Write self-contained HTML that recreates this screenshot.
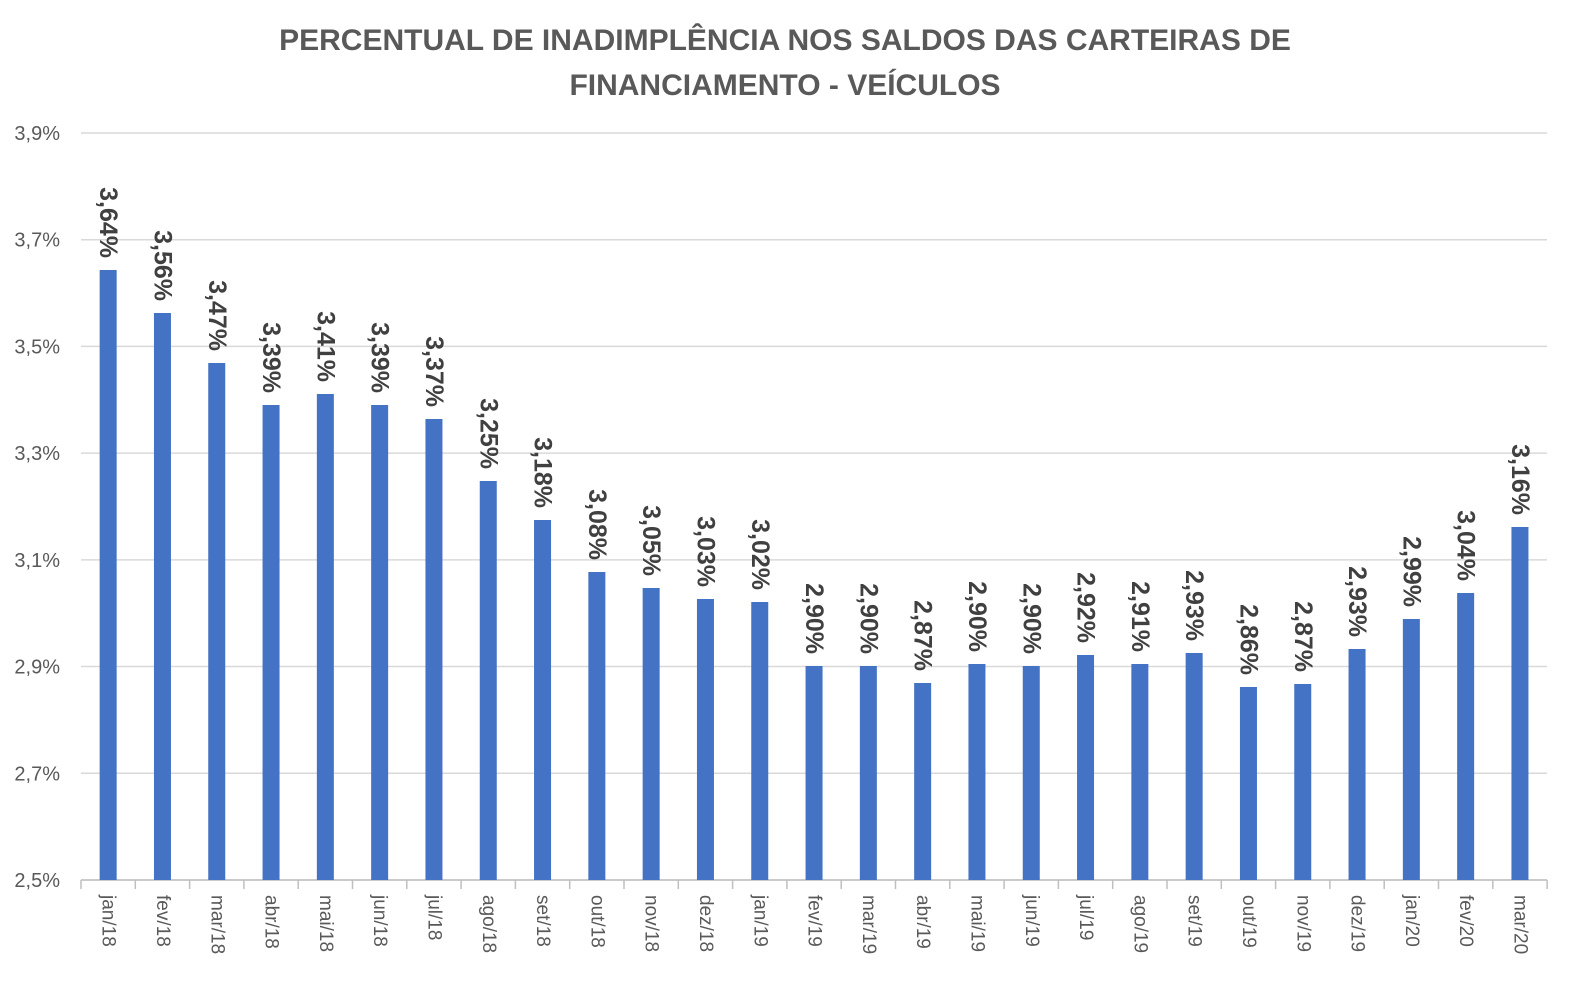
<!DOCTYPE html>
<html><head><meta charset="utf-8"><style>
body{margin:0;background:#fff}
svg{display:block;font-family:"Liberation Sans",Calibri,sans-serif}
</style></head><body>
<svg width="1581" height="985" viewBox="0 0 1581 985" xmlns="http://www.w3.org/2000/svg">
<text x="785" y="50" text-anchor="middle" font-size="30" font-weight="bold" fill="#595959">PERCENTUAL DE INADIMPLÊNCIA NOS SALDOS DAS CARTEIRAS DE</text>
<text x="785" y="95" text-anchor="middle" font-size="30" font-weight="bold" fill="#595959">FINANCIAMENTO - VEÍCULOS</text>
<g id="grid" stroke="#d9d9d9" stroke-width="1.5"></g>
<g id="yl" font-size="20" fill="#595959" text-anchor="end"></g>
<g id="bars" fill="#4472c4"></g>
<g id="lab" font-size="25" font-weight="bold" fill="#404040"></g>
<g id="xl" font-size="19" fill="#595959"></g>
</svg>
<script>
var ns="http://www.w3.org/2000/svg";
function el(p,t,a,txt){var e=document.createElementNS(ns,t);for(var k in a)e.setAttribute(k,a[k]);if(txt)e.textContent=txt;document.getElementById(p).appendChild(e);}
var yl=["3,9%","3,7%","3,5%","3,3%","3,1%","2,9%","2,7%","2,5%"];
for(var i=0;i<8;i++){var y=133+i*106.71;el("grid","line",{x1:81,x2:1547,y1:y,y2:y});el("yl","text",{x:60,y:y+7},yl[i]);}
el("grid","line",{x1:81,x2:1547,y1:880,y2:880,stroke:"#bfbfbf"});
var tops=[270,313,363,405,394,405,419,481,520,572,588,599,602,666,666,683,664,666,655,664,653,687,684,649,619,593,527];
var labs=["3,64%","3,56%","3,47%","3,39%","3,41%","3,39%","3,37%","3,25%","3,18%","3,08%","3,05%","3,03%","3,02%","2,90%","2,90%","2,87%","2,90%","2,90%","2,92%","2,91%","2,93%","2,86%","2,87%","2,93%","2,99%","3,04%","3,16%"];
var cats=["jan/18","fev/18","mar/18","abr/18","mai/18","jun/18","jul/18","ago/18","set/18","out/18","nov/18","dez/18","jan/19","fev/19","mar/19","abr/19","mai/19","jun/19","jul/19","ago/19","set/19","out/19","nov/19","dez/19","jan/20","fev/20","mar/20"];
var w=54.3;
for(var i=0;i<=27;i++){var x=81+i*w;el("grid","line",{x1:x,x2:x,y1:880,y2:889,stroke:"#bfbfbf"});}
for(var i=0;i<27;i++){var c=81+w*(i+0.5);
el("bars","rect",{x:c-8.5,y:tops[i],width:17,height:880-tops[i]});
el("lab","text",{transform:"translate("+c+","+(tops[i]-12)+") rotate(90)","text-anchor":"end","dominant-baseline":"central"},labs[i]);
el("xl","text",{transform:"translate("+c+",895) rotate(90)","text-anchor":"start","dominant-baseline":"central"},cats[i]);}
</script>
</body></html>
